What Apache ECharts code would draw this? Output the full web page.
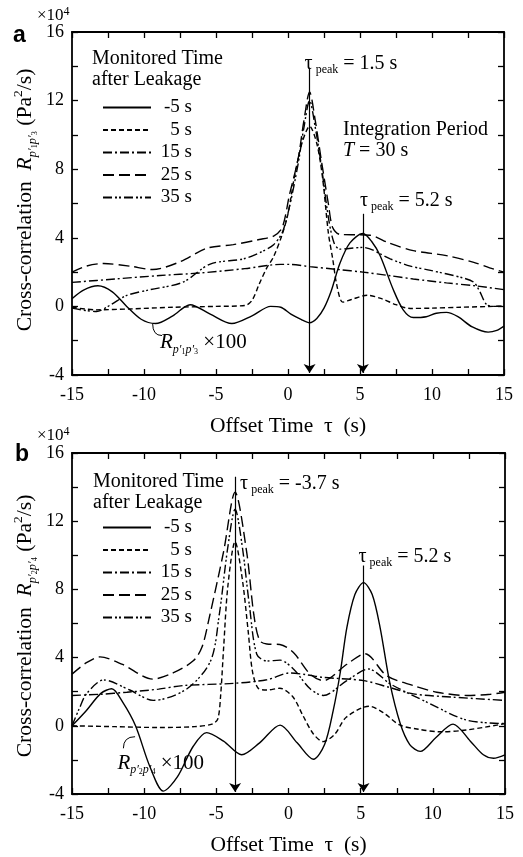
<!DOCTYPE html>
<html><head><meta charset="utf-8">
<script src="https://cdn.jsdelivr.net/npm/echarts@6/dist/echarts.min.js"></script>
<style>html,body{margin:0;padding:0;background:#fff}#c{width:523px;height:857px}</style>
</head><body><div id="c"></div>
<script>
// ---------- data (values in units of 10^4 Pa^2/s, x in s) ----------
const names = ['-5 s', '5 s', '15 s', '25 s', '35 s'];

// panel a
const aM5 = [[-15,0.45],[-14.2,0.95],[-13.2,1.2],[-12.2,0.85],[-11.2,0.0],[-10.2,-0.75],[-9.2,-1.0],[-8,-0.55],[-6.8,0.1],[-5.4,-0.45],[-3.9,-1.0],[-2.5,-0.55],[-1.2,0.0],[-0.5,-0.05],[0.2,-0.45],[0.9,-0.75],[1.5,-0.95],[2.0,-0.7],[2.5,-0.1],[3.0,0.9],[3.6,2.5],[4.3,3.7],[5.2,4.25],[5.8,3.8],[6.4,2.95],[7.3,1.0],[8.0,-0.2],[8.7,-0.65],[9.6,-0.6],[10.3,-0.4],[11.0,-0.35],[11.8,-0.6],[12.8,-1.2],[13.9,-1.5],[14.5,-1.4],[15,-1.15]];
const a5 = [[-15,-0.05],[-13.3,-0.2],[-11,-0.15],[-8,-0.05],[-5,0.0],[-3,0.05],[-2.5,0.35],[-2.0,1.3],[-1.5,2.2],[-1.0,2.9],[-0.4,4.2],[0,5.4],[0.5,7.8],[1.0,9.6],[1.5,10.5],[2.0,9.5],[2.4,7.5],[2.8,4.3],[3.1,2.8],[3.4,1.2],[3.8,0.25],[4.4,0.4],[5.5,0.65],[6.5,0.45],[7.5,0.1],[8.5,-0.12],[10,-0.1],[12,-0.05],[15,0.02]];
const a15 = [[-15,1.4],[-12,1.6],[-8.9,1.8],[-6.1,1.95],[-3,2.2],[-0.5,2.45],[0.1,2.45],[1.5,2.32],[3.5,2.15],[5.2,2.0],[7,1.8],[8.7,1.6],[11,1.37],[13,1.2],[15,0.98]];
const a25 = [[-15,2.0],[-14,2.35],[-12.8,2.5],[-11,2.35],[-9.4,2.15],[-7.5,2.6],[-5.6,3.4],[-3.8,3.6],[-2,3.9],[-1,4.1],[-0.4,4.6],[0.1,6.5],[0.7,8.6],[1.1,10.8],[1.5,12.5],[1.9,10.8],[2.3,8.6],[2.8,6.0],[3.1,4.6],[3.6,4.2],[5.7,4.15],[7,3.7],[8.7,3.25],[11,2.96],[12.9,2.57],[14,2.25],[15,2.0]];
const a35 = [[-15,-0.1],[-13.3,-0.3],[-12.3,0.1],[-11.2,0.64],[-9.6,0.97],[-7.3,1.41],[-5.4,2.47],[-3.1,2.77],[-1.8,3.2],[-1,3.6],[-0.4,4.3],[0.1,5.8],[0.7,8.3],[1.1,10.4],[1.5,12.0],[1.9,10.4],[2.3,8.3],[2.8,5.2],[3.2,3.7],[3.6,3.34],[5.2,3.44],[7.1,2.77],[8.5,2.35],[9.9,2.1],[12.2,1.65],[12.9,1.41],[13.3,0.9],[13.8,0.1],[14.4,0.0],[15,0.0]];

// panel b
const bM5 = [[-15,0],[-14,0.9],[-13,1.9],[-12.25,2.17],[-11.5,1.4],[-10.6,0],[-9.6,-2.4],[-8.67,-3.83],[-7.7,-3.0],[-6.6,-1.2],[-5.67,-0.4],[-4.5,-0.9],[-3.24,-1.7],[-2.0,-1.0],[-0.58,0.04],[0.6,-1.0],[1.72,-1.96],[2.5,-1.1],[3.1,0.9],[3.6,3.2],[4.04,5.75],[4.6,7.7],[5.2,8.4],[5.8,7.7],[6.35,5.75],[7.0,2.6],[7.74,0.13],[8.4,-1.1],[9.13,-1.5],[10.2,-0.7],[11.4,0.1],[12.6,-0.9],[13.5,-1.7],[14.2,-1.9],[15,-1.7]];
const b5 = [[-15,0],[-12,-0.05],[-9,-0.1],[-6.5,-0.05],[-5.3,0.1],[-4.9,0.4],[-4.7,1.8],[-4.5,4.5],[-4.2,8.2],[-3.7,10.8],[-3.2,8.6],[-2.8,5.6],[-2.5,3.2],[-2.1,2.2],[-1.5,2.1],[-0.6,2.2],[0.3,1.7],[1.0,0.6],[1.7,-0.45],[2.4,-0.93],[3.2,-0.5],[4.0,0.5],[5.6,1.15],[6.6,0.75],[7.7,0.05],[9,-0.2],[10.5,-0.35],[12.3,-0.25],[15,0.13]];
const b15 = [[-15,1.78],[-13,1.85],[-11.2,1.97],[-9,2.15],[-7.3,2.36],[-3.8,2.49],[-1.5,2.7],[0.1,3.1],[1.2,3.0],[2.4,2.84],[5.2,2.65],[7,2.25],[8.65,1.87],[11.4,1.68],[15,1.49]];
const b25 = [[-15,3.03],[-14,3.7],[-13.06,4.04],[-11.5,3.6],[-9.4,2.74],[-8,3.1],[-6.6,3.81],[-6.0,4.6],[-5.5,6.3],[-4.5,10.2],[-3.7,13.7],[-2.9,10.2],[-2.4,6.5],[-2.0,5.0],[-1.5,4.8],[-0.6,4.77],[0.34,4.3],[1.5,3.03],[2.41,2.65],[4.04,3.61],[5.3,4.23],[6.8,2.94],[8.65,2.36],[10.27,1.97],[12.35,1.78],[14,1.85],[15,1.97]];
const b35 = [[-15,0],[-14.5,1.0],[-14,1.87],[-12.8,2.69],[-11,2.1],[-9.37,1.49],[-7.05,2.16],[-5.4,3.8],[-4.8,6.5],[-4.2,10.5],[-3.7,12.7],[-3.2,10.5],[-2.7,7],[-2.2,4.2],[-1.5,3.8],[-0.58,3.85],[0.34,3.33],[1.5,2.17],[2.41,1.78],[4.04,2.65],[5.55,3.33],[7.04,2.46],[9.58,1.39],[12.35,0.33],[15,0.13]];

// peak markers
const aPeakX = [1.5, 5.2];
const aPeakTop = [13.9, 5.4];
const aPeakText = ['1.5 s', '5.2 s'];
const bPeakX = [-3.7, 5.2];
const bPeakTop = [14.6, 9.4];
const bPeakText = ['-3.7 s', '5.2 s'];

// axis ranges
const xMin = -15, xMax = 15, xStep = 5;
const yMin = -4, yMax = 16, yStep = 4;

// ---------- styles ----------
const SERIF = '"Liberation Serif","Times New Roman",serif';
const SANS = '"Liberation Sans",Arial,sans-serif';
const dashTypes = ['solid', [5,3], [9,3,2,3], [11,5], [9,3,2,2,2,3]];

const chart = echarts.init(document.getElementById('c'), null, {renderer: 'canvas'});

function xAx(gi, pos, showLabel) {
  return {
    type: 'value', gridIndex: gi, position: pos, min: xMin, max: xMax, interval: xStep,
    axisLine: {show: true, onZero: false, lineStyle: {color: '#000', width: 1.8}},
    axisTick: {show: true, inside: true, length: 6, lineStyle: {color: '#000', width: 1.3}},
    minorTick: {show: true, splitNumber: 2, length: 6, lineStyle: {color: '#000', width: 1.3}},
    splitLine: {show: false}, minorSplitLine: {show: false},
    axisLabel: {show: showLabel, color: '#000', fontFamily: SERIF, fontSize: 18, margin: 11},
    name: showLabel ? 'Offset Time  τ  (s)' : '', nameLocation: 'middle', nameGap: 40,
    nameTextStyle: {color: '#000', fontFamily: SERIF, fontSize: 21.5}
  };
}
function yAx(gi, pos, showLabel) {
  return {
    type: 'value', gridIndex: gi, position: pos, min: yMin, max: yMax, interval: yStep,
    axisLine: {show: true, onZero: false, lineStyle: {color: '#000', width: 1.8}},
    axisTick: {show: true, inside: true, length: 6, lineStyle: {color: '#000', width: 1.3}},
    minorTick: {show: true, splitNumber: 2, length: 6, lineStyle: {color: '#000', width: 1.3}},
    splitLine: {show: false}, minorSplitLine: {show: false},
    axisLabel: {show: showLabel, color: '#000', fontFamily: SERIF, fontSize: 18, margin: 8}
  };
}

function panelSeries(datas, gi, peakX, peakTop) {
  return datas.map((d, i) => {
    const s = {
      name: names[i], type: 'line', xAxisIndex: gi * 2, yAxisIndex: gi * 2,
      data: d, symbol: 'none', showSymbol: false, smooth: 0.3, silent: true,
      lineStyle: {color: '#000', width: 1.4, type: dashTypes[i]},
      itemStyle: {color: '#000'}, z: 3
    };
    if (i === 0) {
      s.markLine = {
        silent: true, symbol: ['none', 'arrow'], symbolSize: 9, animation: false,
        label: {show: false},
        lineStyle: {color: '#000', width: 1.2, type: 'solid'},
        emphasis: {disabled: true},
        data: peakX.map((x, k) => [{coord: [x, peakTop[k]]}, {coord: [x, yMin + 0.12]}])
      };
    }
    return s;
  });
}

function legendCfg(top) {
  return {
    data: names, orient: 'vertical', left: 97, top: top,
    itemWidth: 48, itemHeight: 14, itemGap: 3.5, selectedMode: false,
    itemStyle: {opacity: 0, borderWidth: 0},
    formatter: n => '{r|' + n + '}',
    textStyle: {color: '#000', fontFamily: SERIF, fontSize: 19,
      rich: {r: {width: 36, align: 'right', fontFamily: SERIF, fontSize: 19, lineHeight: 20, color: '#000'}}}
  };
}

chart.setOption({
  animation: false,
  backgroundColor: '#fff',
  grid: [
    {left: 72, top: 32, width: 432, height: 343},
    {left: 72, top: 453, width: 433, height: 344}
  ],
  xAxis: [xAx(0, 'bottom', true), xAx(0, 'top', false), xAx(1, 'bottom', true), xAx(1, 'top', false)],
  yAxis: [yAx(0, 'left', true), yAx(0, 'right', false), yAx(1, 'left', true), yAx(1, 'right', false)],
  legend: [legendCfg(93), legendCfg(513)],
  series: [].concat(
    panelSeries([aM5, a5, a15, a25, a35], 0, aPeakX, aPeakTop),
    panelSeries([bM5, b5, b15, b25, b35], 1, bPeakX, bPeakTop)
  )
});

// ---------- annotations ----------
const pa = (x, y) => chart.convertToPixel({xAxisIndex: 0, yAxisIndex: 0}, [x, y]);
const pb = (x, y) => chart.convertToPixel({xAxisIndex: 2, yAxisIndex: 2}, [x, y]);

function makeRich(k) {
  return {
    t: {fontFamily: SERIF, fontSize: 20, fill: '#000', lineHeight: 24},
    p: {fontFamily: SERIF, fontSize: 12, fill: '#000', lineHeight: 12, verticalAlign: 'bottom'},
    n: {fontFamily: SERIF, fontSize: 21 * k, fill: '#000', lineHeight: 26 * k},
    ri: {fontFamily: SERIF, fontSize: 21 * k, fontStyle: 'italic', fill: '#000', lineHeight: 26 * k},
    s: {fontFamily: SERIF, fontSize: 12 * k, fontStyle: 'italic', fill: '#000', lineHeight: 14 * k, verticalAlign: 'bottom'},
    ss: {fontFamily: SERIF, fontSize: 8 * k, fill: '#000', lineHeight: 8 * k, verticalAlign: 'bottom'},
    sup: {fontFamily: SERIF, fontSize: 13 * k, fill: '#000', lineHeight: 13 * k, verticalAlign: 'top'},
    x: {fontFamily: SERIF, fontSize: 17, fill: '#000', lineHeight: 20},
    xs: {fontFamily: SERIF, fontSize: 12, fill: '#000', lineHeight: 12, verticalAlign: 'top'},
    m: {fontFamily: SERIF, fontSize: 20, fill: '#000', lineHeight: 22},
    mi: {fontFamily: SERIF, fontSize: 20, fontStyle: 'italic', fill: '#000', lineHeight: 22}
  };
}
const rich = makeRich(1);

function txt(x, y, text, opts, r) {
  return Object.assign({type: 'text', x: x, y: y, silent: true, z: 10,
    style: {text: text, rich: r || rich, align: 'left', verticalAlign: 'middle', fill: '#000'}}, opts || {});
}
function vtxt(x, y, text, k) {
  return {type: 'text', x: x, y: y, rotation: Math.PI / 2, silent: true, z: 10,
    style: {text: text, rich: makeRich(k), align: 'center', verticalAlign: 'middle', fill: '#000'}};
}

const g = [];
// panel letters
g.push({type: 'text', x: 13, y: 36, silent: true, style: {text: 'a', font: 'bold 23px ' + SANS, fill: '#000', verticalAlign: 'middle'}});
g.push({type: 'text', x: 15, y: 455, silent: true, style: {text: 'b', font: 'bold 23px ' + SANS, fill: '#000', verticalAlign: 'middle'}});
// x10^4
g.push(txt(37, 16, '{x|×10}{xs|4}'));
g.push(txt(37, 436, '{x|×10}{xs|4}'));
// y axis titles (rotated)
g.push(vtxt(25, 200, '{n|Cross-correlation  }{ri|R}{s|p′}{ss|1}{s|p′}{ss|3}{n| (Pa}{sup|2}{n|/s)}', 1.03));
g.push(vtxt(25, 626, '{n|Cross-correlation  }{ri|R}{s|p′}{ss|2}{s|p′}{ss|4}{n| (Pa}{sup|2}{n|/s)}', 1.03));
// legend headers
g.push(txt(92, 59, '{m|Monitored Time}'));
g.push(txt(92, 80, '{m|after Leakage}'));
g.push(txt(93, 482, '{m|Monitored Time}'));
g.push(txt(93, 503, '{m|after Leakage}'));
// integration period
g.push(txt(343, 130, '{m|Integration Period}'));
g.push(txt(343, 151, '{mi|T}{m| = 30 s}'));
// tau peak labels
const aOff = [[-5, -4], [-3, -13]];
aPeakX.forEach((x, k) => {
  const p = pa(x, aPeakTop[k]);
  g.push(txt(p[0] + aOff[k][0], p[1] + aOff[k][1], '{t|τ}{p| peak}{t| = ' + aPeakText[k] + '}'));
});
const bOff = [[5, 7], [-5, -9]];
bPeakX.forEach((x, k) => {
  const p = pb(x, bPeakTop[k]);
  g.push(txt(p[0] + bOff[k][0], p[1] + bOff[k][1], '{t|τ}{p| peak}{t| = ' + bPeakText[k] + '}'));
});
// R x100 annotations with leader curves
const aL0 = pa(-9.4, -1.0), aL1 = pa(-8.75, -1.7);
g.push({type: 'bezierCurve', silent: true, shape: {x1: aL0[0], y1: aL0[1], x2: aL1[0], y2: aL1[1], cpx1: aL0[0], cpy1: aL1[1]}, style: {stroke: '#000', lineWidth: 1, fill: null}});
g.push(txt(aL1[0] - 2, aL1[1] + 7, '{ri|R}{s|p′}{ss|1}{s|p′}{ss|3}{n| ×100}'));
const bL0 = pb(-10.63, -0.64), bL1 = pb(-11.44, -1.32);
g.push({type: 'bezierCurve', silent: true, shape: {x1: bL0[0], y1: bL0[1], x2: bL1[0], y2: bL1[1], cpx1: bL1[0], cpy1: bL0[1]}, style: {stroke: '#000', lineWidth: 1, fill: null}});
g.push(txt(bL1[0] - 6, bL1[1] + 15, '{ri|R}{s|p′}{ss|2}{s|p′}{ss|4}{n| ×100}'));

chart.setOption({graphic: g});
</script>
</body></html>
